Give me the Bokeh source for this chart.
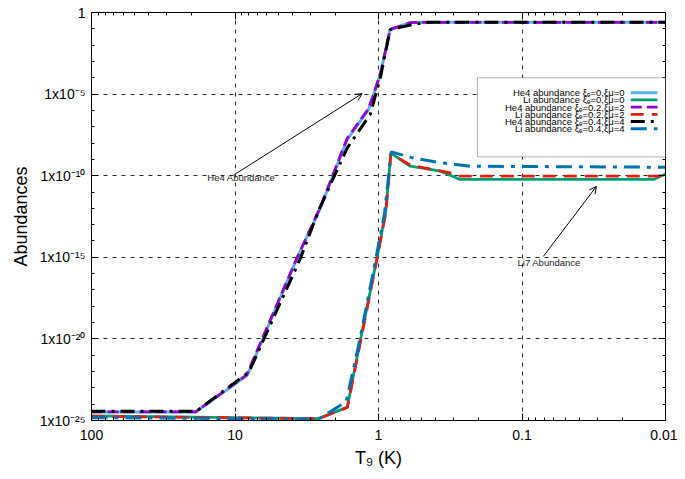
from bokeh.plotting import figure
from bokeh.models import (Range1d, LogAxis, FixedTicker, CustomJSTickFormatter,
                          BoxAnnotation, Label, Arrow, OpenHead)
from bokeh.embed import file_html
from bokeh.resources import INLINE
import math

FONT = "Liberation Sans"

# ---------------- data ----------------
# He4 abundance, xi_e=0, xi_mu=0
t_he4_a = [100, 18.8, 8.2, 3.7, 2.54, 1.65, 1.17, 1.1, 0.97, 0.83, 0.6, 0.45, 0.01]
he4_a = [3.3e-25, 3.3e-25, 5.9e-23, 8.7e-16, 1.05e-12, 1.7e-8, 1.17e-6, 6.2e-6,
         1.7e-4, 8.9e-2, 0.24, 0.25, 0.25]
# Li abundance, xi_e=0, xi_mu=0
t_li_a = [100, 2.62, 1.65, 1.33, 1.02, 0.89, 0.82, 0.6, 0.37, 0.27, 0.0121, 0.01]
li_a = [1.9e-25, 1.3e-25, 6.6e-25, 1.05e-20, 1.12e-15, 6.6e-13, 2.4e-9, 3.8e-10,
        1.9e-10, 5.9e-11, 5.9e-11, 1.29e-10]
# He4 abundance, xi_e=0.2, xi_mu=2
t_he4_b = [100, 18.8, 8.3, 3.7, 2.55, 1.66, 1.18, 1.1, 0.97, 0.83, 0.6, 0.45, 0.01]
he4_b = [3.4e-25, 3.4e-25, 6.2e-23, 9.0e-16, 1.1e-12, 1.8e-8, 1.2e-6, 6.3e-6,
         1.75e-4, 9.0e-2, 0.24, 0.25, 0.25]
# Li abundance, xi_e=0.2, xi_mu=2
t_li_b = [100, 2.62, 1.65, 1.33, 1.02, 0.89, 0.82, 0.6, 0.315, 0.27, 0.0115, 0.01]
li_b = [1.8e-25, 1.3e-25, 6.3e-25, 7.9e-21, 1.0e-15, 5.0e-13, 2.24e-9, 4.5e-10,
        1.48e-10, 9.3e-11, 9.3e-11, 1.12e-10]
# He4 abundance, xi_e=0.4, xi_mu=4
t_he4_c = [100, 18.6, 8.0, 3.5, 2.6, 1.65, 1.14, 0.97, 0.83, 0.55, 0.45, 0.01]
he4_c = [3.7e-25, 3.7e-25, 9.3e-23, 8.7e-16, 8.3e-13, 5.1e-9, 5.9e-7, 1.05e-4,
         8.9e-2, 0.2, 0.25, 0.25]
# Li abundance, xi_e=0.4, xi_mu=4
t_li_c = [100, 2.62, 1.68, 1.36, 1.05, 0.91, 0.815, 0.57, 0.37, 0.229, 0.01]
li_c = [1.5e-25, 1.2e-25, 1.41e-24, 6.3e-21, 6.3e-16, 4.0e-13, 2.9e-9, 1.2e-9,
        6.2e-10, 3.8e-10, 3.3e-10]

series_labels = [
    "He4 abundance ξₑ=0,ξμ=0",
    "Li abundance ξₑ=0,ξμ=0",
    "He4 abundance ξₑ=0.2,ξμ=2",
    "Li abundance ξₑ=0.2,ξμ=2",
    "He4 abundance ξₑ=0.4,ξμ=4",
    "Li abundance ξₑ=0.4,ξμ=4",
]

x_tick_values = [100, 10, 1, 0.1, 0.01]
x_tick_labels = ["100", "10", "1", "0.1", "0.01"]
y_tick_values = [1e-25, 1e-20, 1e-15, 1e-10, 1e-5, 1]
y_tick_labels = ["1x10⁻²⁵", "1x10⁻²⁰", "1x10⁻¹⁵", "1x10⁻¹⁰", "1x10⁻⁵", "1"]

# ---------------- figure ----------------
X0, X1 = 100, 0.01
Y0, Y1 = 1e-25, 1.0

p = figure(width=677, height=471, x_axis_type="log", y_axis_type="log",
           x_range=Range1d(X0, X1), y_range=Range1d(Y0, Y1),
           output_backend="svg", toolbar_location=None,
           min_border_left=91, min_border_right=12, min_border_top=12,
           min_border_bottom=51)
p.outline_line_color = "black"
p.outline_line_width = 1
p.background_fill_color = "white"

x_minor = [k * 10.0 ** n for n in range(-2, 2) for k in range(2, 10)]
y_minor = [10.0 ** n for n in range(-25, 1) if n % 5 != 0]

js_code = """
for (let i = 0; i < vals.length; i++) {
  if (Math.abs(Math.log10(tick) - Math.log10(vals[i])) < 1e-6) return labs[i];
}
return "";
"""
fmt_x = CustomJSTickFormatter(args=dict(vals=x_tick_values, labs=x_tick_labels), code=js_code)
fmt_y = CustomJSTickFormatter(args=dict(vals=y_tick_values, labs=y_tick_labels), code=js_code)
fmt_blank = CustomJSTickFormatter(code='return "";')


def style_axis(ax, with_labels):
    ax.axis_line_color = "black"
    ax.major_tick_line_color = "black"
    ax.minor_tick_line_color = "black"
    ax.major_tick_in = 7
    ax.major_tick_out = 0
    ax.minor_tick_in = 3
    ax.minor_tick_out = 0
    if with_labels:
        ax.major_label_text_font = FONT
        ax.major_label_text_font_size = "14px"
        ax.major_label_text_color = "black"
        ax.axis_label_text_font = FONT
        ax.axis_label_text_font_size = "18px"
        ax.axis_label_text_font_style = "normal"
        ax.axis_label_text_color = "black"
    else:
        ax.major_label_text_font_size = "0px"
        ax.major_label_standoff = 0


xt = FixedTicker(ticks=x_tick_values, minor_ticks=x_minor)
yt = FixedTicker(ticks=y_tick_values, minor_ticks=y_minor)

p.xaxis.ticker = xt
p.xaxis.formatter = fmt_x
p.xaxis.axis_label = "T₉ (K)"
p.xaxis.major_label_standoff = 9
p.xaxis.axis_label_standoff = 5
style_axis(p.xaxis[0], True)

p.yaxis.ticker = yt
p.yaxis.formatter = fmt_y
p.yaxis.axis_label = "Abundances"
p.yaxis.major_label_standoff = 6
p.yaxis.axis_label_standoff = 6
style_axis(p.yaxis[0], True)

top_ax = LogAxis(ticker=FixedTicker(ticks=x_tick_values, minor_ticks=x_minor), formatter=fmt_blank)
style_axis(top_ax, False)
p.add_layout(top_ax, "above")
right_ax = LogAxis(ticker=FixedTicker(ticks=y_tick_values, minor_ticks=y_minor), formatter=fmt_blank)
style_axis(right_ax, False)
p.add_layout(right_ax, "right")

for g in (p.xgrid[0], p.ygrid[0]):
    g.grid_line_color = "black"
    g.grid_line_alpha = 0.85
    g.grid_line_width = 1
    g.grid_line_dash = "4 5"
p.xgrid.ticker = FixedTicker(ticks=x_tick_values)
p.ygrid.ticker = FixedTicker(ticks=y_tick_values)

# ---------------- series ----------------
styles = [
    dict(color="#56b4e9", dash="solid", width=3),
    dict(color="#009e73", dash="solid", width=2.8),
    dict(color="#9400d3", dash="11 5", width=2.8),
    dict(color="#e51e10", dash="13 8", width=2.8),
    dict(color="#000000", dash="14 6 3 6", width=3),
    dict(color="#0072b2", dash="16 7 4 7", width=3),
]
series = [(t_he4_a, he4_a), (t_li_a, li_a), (t_he4_b, he4_b),
          (t_li_b, li_b), (t_he4_c, he4_c), (t_li_c, li_c)]
for (tx, ty), st in zip(series, styles):
    p.line(tx, ty, line_color=st["color"], line_width=st["width"],
           line_dash=st["dash"])


# ---------------- legend (drawn by hand, text left of sample) -------------
def fx(f):  # fraction of frame width -> data x (log, reversed)
    return 10 ** (math.log10(X0) + f * (math.log10(X1) - math.log10(X0)))


def fy(f):  # fraction of frame height from top -> data y
    return 10 ** (math.log10(Y1) + f * (math.log10(Y0) - math.log10(Y1)))


p.add_layout(BoxAnnotation(left=fx(0.6725), right=X1, top=fy(0.160), bottom=fy(0.354),
                           fill_color="white", fill_alpha=1.0,
                           line_color="black", line_width=1, level="annotation"))
row0, drow = 0.1965, 0.0177
for i, (lab, st) in enumerate(zip(series_labels, styles)):
    yy = fy(row0 + i * drow)
    p.add_layout(Label(x=fx(0.9285), y=yy, text=lab, text_align="right",
                       text_baseline="middle", text_font=FONT,
                       text_font_size="9.5px", text_color="black"))
    p.add_layout(Arrow(end=None, x_start=fx(0.9395), y_start=yy, x_end=fx(0.986), y_end=yy,
                       line_color=st["color"], line_width=st["width"],
                       line_dash=st["dash"]))

# ---------------- annotations ----------------
p.add_layout(Label(x=15.6, y=8.1e-11, text="He4 Abundance", text_align="left",
                   text_baseline="middle", text_font=FONT, text_font_size="9.5px",
                   text_color="#222222"))
p.add_layout(Arrow(end=OpenHead(size=7, line_width=1, line_color="black"),
                   x_start=9.9, y_start=1.3e-10, x_end=1.30, y_end=1.07e-5,
                   line_color="black", line_width=1))
p.add_layout(Label(x=0.1075, y=4.8e-16, text="Li7 Abundance", text_align="left",
                   text_baseline="middle", text_font=FONT, text_font_size="9.5px",
                   text_color="#222222"))
p.add_layout(Arrow(end=OpenHead(size=7, line_width=1, line_color="black"),
                   x_start=0.0711, y_start=1.12e-15, x_end=0.0303, y_end=2.2e-11,
                   line_color="black", line_width=1))

open("out.html", "w").write(file_html(p, INLINE))
